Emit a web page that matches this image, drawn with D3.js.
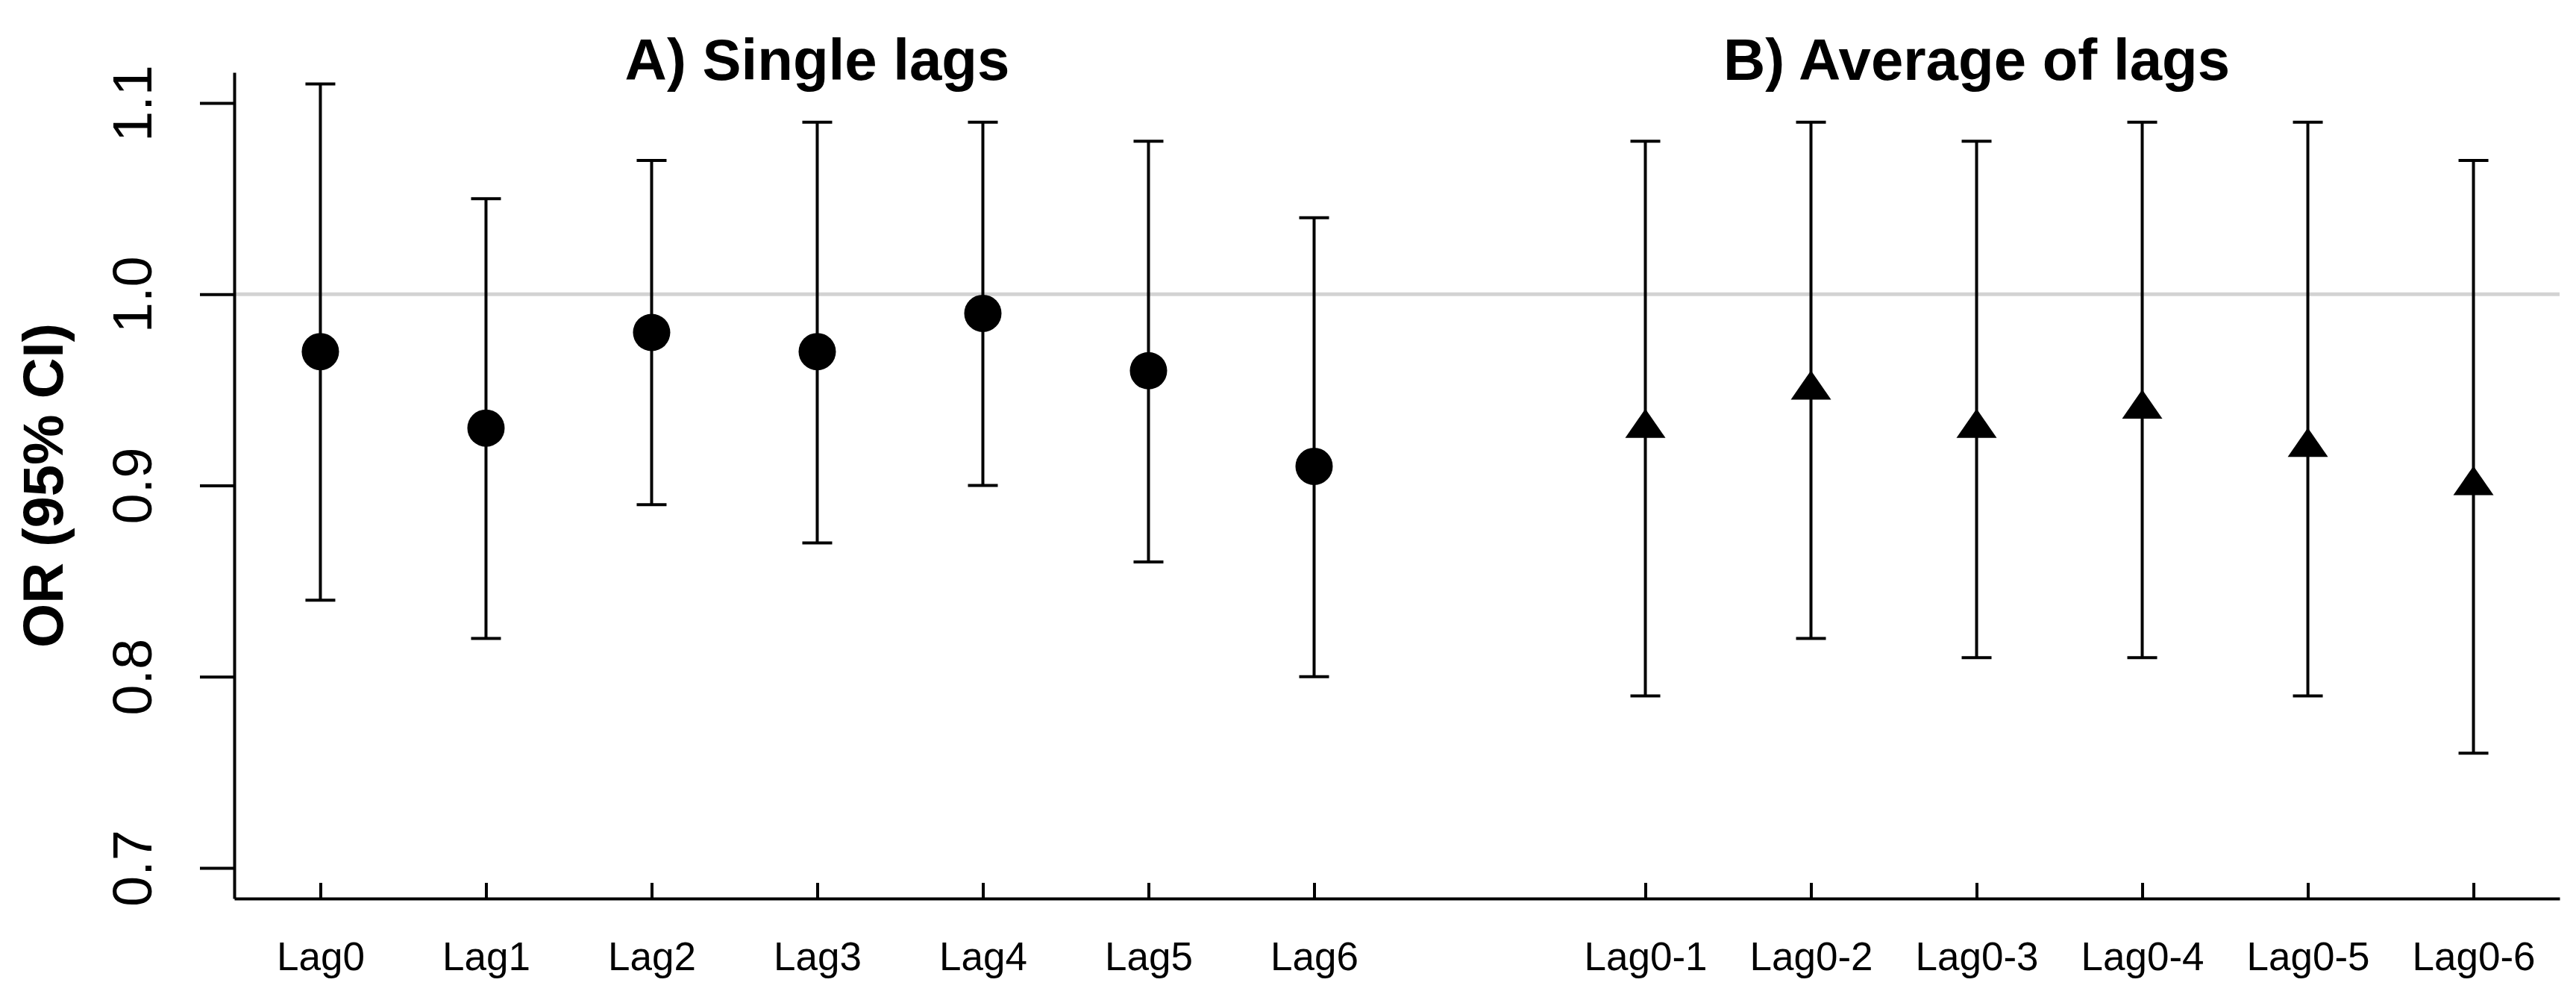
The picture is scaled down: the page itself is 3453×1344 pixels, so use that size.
<!DOCTYPE html>
<html>
<head>
<meta charset="utf-8">
<script src="https://cdn.jsdelivr.net/npm/d3@7"></script>
<style>
  body { margin: 0; background: #fff; }
  svg { display: block; font-family: "Liberation Sans", Arial, sans-serif; }
</style>
</head>
<body>
<svg id="chart" width="3453" height="1344"></svg>
<script>
// Single lags (panel A)
const singleLabels = ["Lag0", "Lag1", "Lag2", "Lag3", "Lag4", "Lag5", "Lag6"];
const singleOR     = [0.97, 0.93, 0.98, 0.97, 0.99, 0.96, 0.91];
const singleLower  = [0.84, 0.82, 0.89, 0.87, 0.90, 0.86, 0.80];
const singleUpper  = [1.11, 1.05, 1.07, 1.09, 1.09, 1.08, 1.04];
const singlePos    = [1, 2, 3, 4, 5, 6, 7];

// Average of lags (panel B)
const avgLabels = ["Lag0-1", "Lag0-2", "Lag0-3", "Lag0-4", "Lag0-5", "Lag0-6"];
const avgOR     = [0.93, 0.95, 0.93, 0.94, 0.92, 0.90];
const avgLower  = [0.79, 0.82, 0.81, 0.81, 0.79, 0.76];
const avgUpper  = [1.08, 1.09, 1.08, 1.09, 1.09, 1.07];
const avgPos    = [9, 10, 11, 12, 13, 14];

const yTicks = [0.7, 0.8, 0.9, 1.0, 1.1];

const svg = d3.select('#chart');

// R style limits: xlim 1..14, ylim 0.7..1.1, both padded by 4%
const x = d3.scaleLinear().domain([0.48, 14.52]).range([314, 3431]);
const y = d3.scaleLinear().domain([0.684, 1.116]).range([1204, 97]);

const single = singleLabels.map((l, i) => ({label: l, pos: singlePos[i], or: singleOR[i], lo: singleLower[i], hi: singleUpper[i]}));
const avg = avgLabels.map((l, i) => ({label: l, pos: avgPos[i], or: avgOR[i], lo: avgLower[i], hi: avgUpper[i]}));
const all = single.concat(avg);

// reference line at OR = 1
svg.append('line')
    .attr('x1', x.range()[0]).attr('x2', x.range()[1])
    .attr('y1', y(1)).attr('y2', y(1))
    .attr('stroke', '#d3d3d3').attr('stroke-width', 5);

// y axis
const yAxis = svg.append('g')
    .attr('transform', `translate(${x.range()[0]},0)`)
    .call(d3.axisLeft(y).tickValues(yTicks).tickSize(46).tickSizeOuter(0).tickFormat(d3.format('.1f')));
yAxis.select('.domain').attr('stroke-width', 4);
yAxis.selectAll('.tick line').attr('stroke-width', 4);
yAxis.selectAll('.tick text')
    .attr('x', 0).attr('dy', 0)
    .attr('transform', 'translate(-111,0) rotate(-90)')
    .attr('text-anchor', 'middle')
    .attr('font-size', 74)
    .attr('font-family', '"Liberation Sans", Arial, sans-serif')
    .attr('fill', '#000');

// x axis, ticks pointing into the plot
const xAxis = svg.append('g')
    .attr('transform', `translate(0,${y.range()[0]})`)
    .call(d3.axisBottom(x).tickValues(all.map(d => d.pos)).tickSize(-21).tickSizeOuter(0)
        .tickFormat(p => all.find(d => d.pos === p).label));
xAxis.select('.domain').attr('stroke-width', 4);
xAxis.selectAll('.tick line').attr('stroke-width', 4);
xAxis.selectAll('.tick text')
    .attr('y', 96).attr('dy', 0)
    .attr('font-size', 53)
    .attr('font-family', '"Liberation Sans", Arial, sans-serif')
    .attr('fill', '#000');

// y axis title
svg.append('text')
    .attr('transform', `translate(84,${(y.range()[0] + y.range()[1]) / 2}) rotate(-90)`)
    .attr('text-anchor', 'middle')
    .attr('font-size', 76)
    .attr('font-weight', 'bold')
    .text('OR (95% CI)');

// panel titles
svg.append('text')
    .attr('x', x(4)).attr('y', 107)
    .attr('text-anchor', 'middle')
    .attr('font-size', 78).attr('font-weight', 'bold')
    .text('A) Single lags');
svg.append('text')
    .attr('x', x(11)).attr('y', 107)
    .attr('text-anchor', 'middle')
    .attr('font-size', 78).attr('font-weight', 'bold')
    .text('B) Average of lags');

// error bars
const capW = 20;
const bars = svg.append('g').attr('stroke', '#000').attr('stroke-width', 4);
bars.selectAll('.ci').data(all).join('line')
    .attr('x1', d => x(d.pos)).attr('x2', d => x(d.pos))
    .attr('y1', d => y(d.lo)).attr('y2', d => y(d.hi));
bars.selectAll('.cap-hi').data(all).join('line')
    .attr('x1', d => x(d.pos) - capW).attr('x2', d => x(d.pos) + capW)
    .attr('y1', d => y(d.hi)).attr('y2', d => y(d.hi));
bars.selectAll('.cap-lo').data(all).join('line')
    .attr('x1', d => x(d.pos) - capW).attr('x2', d => x(d.pos) + capW)
    .attr('y1', d => y(d.lo)).attr('y2', d => y(d.lo));

// filled circles for single lags
svg.selectAll('.pt').data(single).join('circle')
    .attr('cx', d => x(d.pos)).attr('cy', d => y(d.or))
    .attr('r', 25).attr('fill', '#000');

// filled triangles (pch 17 style) for averages
svg.selectAll('.tri').data(avg).join('path')
    .attr('d', d => {
        const cx = x(d.pos), cy = y(d.or);
        return `M${cx},${cy - 26}L${cx + 27},${cy + 13}L${cx - 27},${cy + 13}Z`;
    })
    .attr('fill', '#000');
</script>
</body>
</html>
